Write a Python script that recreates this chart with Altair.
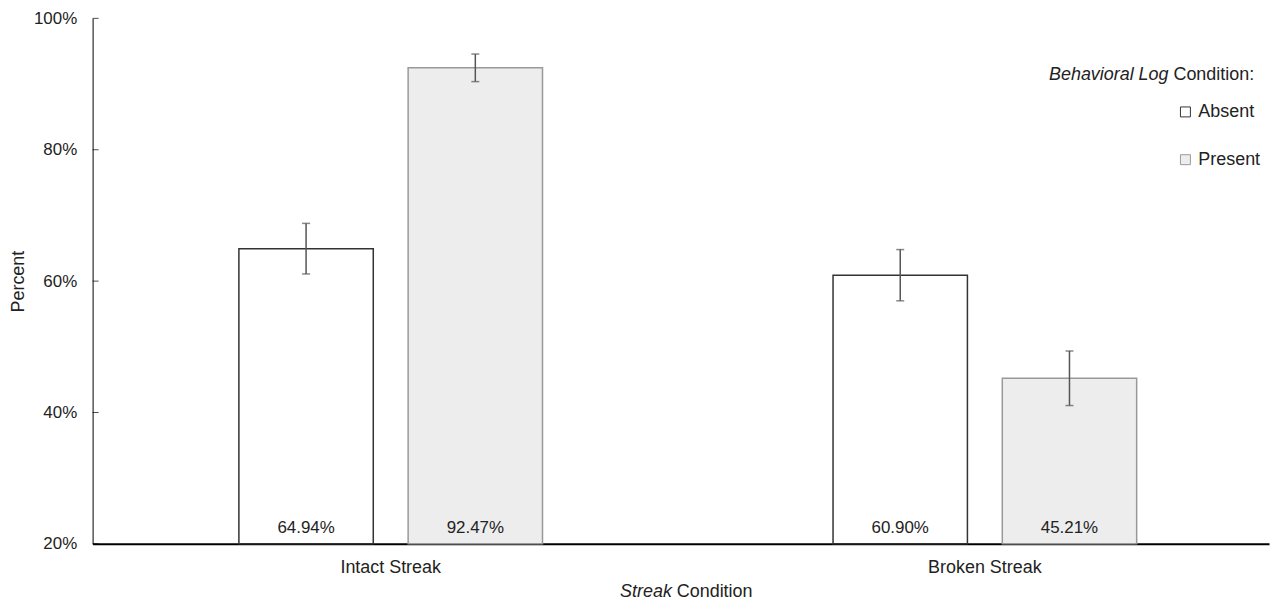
import altair as alt
import pandas as pd

streak = ["Intact Streak", "Intact Streak", "Broken Streak", "Broken Streak"]
log_cond = ["Absent", "Present", "Absent", "Present"]
pct = [64.94, 92.47, 60.90, 45.21]
err = [3.85, 2.10, 3.90, 4.15]
streak_order = ["Intact Streak", "Broken Streak"]
log_order = ["Absent", "Present"]
y_ticks = [20, 40, 60, 80, 100]

df = pd.DataFrame({"streak": streak, "log": log_cond, "pct": pct, "err": err})
df["lo"] = df["pct"] - df["err"]
df["hi"] = df["pct"] + df["err"]
df["label"] = [f"{v:.2f}%" for v in pct]
df["base"] = 20
ticks_df = pd.DataFrame({"v": y_ticks})

FONT = "Liberation Sans"
TXT = "#222222"
W, H = 1182, 528

x_enc = alt.X("streak:N", sort=streak_order,
              scale=alt.Scale(paddingInner=0.489, paddingOuter=0.2345, align=0.525),
              axis=alt.Axis(title=None, ticks=False, domainColor="#000000", domainWidth=2,
                            labelFont=FONT, labelFontSize=18, labelColor=TXT,
                            labelPadding=15, labelAngle=0))
xo_enc = alt.XOffset("log:N", sort=log_order, scale=alt.Scale(paddingInner=0.206, paddingOuter=0))
y_scale = alt.Scale(domain=[20, 100], zero=False, nice=False)

legend_cfg = dict(title=None, orient="none", legendX=1089, legendY=85,
                  symbolType="square", symbolSize=100, symbolStrokeWidth=1,
                  labelFont=FONT, labelFontSize=18, labelColor=TXT,
                  labelOffset=4, rowPadding=30)

base = alt.Chart(df)

bars = base.mark_bar(strokeWidth=1.5).encode(
    x=x_enc,
    xOffset=xo_enc,
    y=alt.Y("pct:Q", scale=y_scale,
            axis=alt.Axis(title="Percent", values=y_ticks, format=".0f", labelExpr="datum.label + '%'",
                          grid=False, ticks=False, domainColor="#000000", domainWidth=1,
                          labelFont=FONT, labelFontSize=17, labelColor=TXT, labelPadding=16,
                          titleFont=FONT, titleFontSize=18, titleColor=TXT, titleFontWeight="normal",
                          titleX=-74, titleY=264, titleAngle=270, titleAlign="center",
                          titleBaseline="middle")),
    y2=alt.Y2("base:Q"),
    fill=alt.Fill("log:N", sort=log_order,
                  scale=alt.Scale(domain=log_order, range=["#ffffff", "#ededed"]),
                  legend=alt.Legend(**legend_cfg)),
    stroke=alt.Stroke("log:N", sort=log_order,
                      scale=alt.Scale(domain=log_order, range=["#333333", "#999999"]),
                      legend=alt.Legend(**legend_cfg)),
)

yticks = alt.Chart(ticks_df).mark_tick(color="#000000", thickness=1, size=6, orient="horizontal").encode(
    x=alt.value(3), y=alt.Y("v:Q", scale=y_scale))

rules = base.mark_rule(color="#555555", strokeWidth=1.5).encode(
    x=alt.X("streak:N", sort=streak_order), xOffset=xo_enc,
    y=alt.Y("lo:Q", scale=y_scale), y2="hi:Q")

caps_lo = base.mark_tick(color="#555555", thickness=1.5, size=8, orient="horizontal").encode(
    x=alt.X("streak:N", sort=streak_order), xOffset=xo_enc, y=alt.Y("lo:Q", scale=y_scale))
caps_hi = base.mark_tick(color="#555555", thickness=1.5, size=8, orient="horizontal").encode(
    x=alt.X("streak:N", sort=streak_order), xOffset=xo_enc, y=alt.Y("hi:Q", scale=y_scale))

labels = base.mark_text(font=FONT, fontSize=17, color=TXT, baseline="middle", dy=-16).encode(
    x=alt.X("streak:N", sort=streak_order), xOffset=xo_enc,
    y=alt.Y("base:Q", scale=y_scale), text="label:N")

ann = pd.DataFrame({"t": ["x"]})
xt1 = alt.Chart(ann).mark_text(font=FONT, fontSize=18, color=TXT, fontStyle="italic",
                               align="right", baseline="middle").encode(
    x=alt.value(582), y=alt.value(H + 48.5), text=alt.value("Streak"))
xt2 = alt.Chart(ann).mark_text(font=FONT, fontSize=18, color=TXT,
                               align="left", baseline="middle").encode(
    x=alt.value(587), y=alt.value(H + 48.5), text=alt.value("Condition"))
lt1 = alt.Chart(ann).mark_text(font=FONT, fontSize=18, color=TXT, fontStyle="italic",
                               align="right", baseline="middle").encode(
    x=alt.value(1081), y=alt.value(57), text=alt.value("Behavioral Log"))
lt2 = alt.Chart(ann).mark_text(font=FONT, fontSize=18, color=TXT,
                               align="left", baseline="middle").encode(
    x=alt.value(1086), y=alt.value(57), text=alt.value("Condition:"))

chart = alt.layer(bars, yticks, rules, caps_lo, caps_hi, labels, xt1, xt2, lt1, lt2).properties(
    width=W, height=H,
    background="#ffffff",
    autosize=alt.AutoSizeParams(type="none"),
    padding={"left": 85, "top": 9, "right": 5, "bottom": 58},
).configure_view(stroke="transparent", strokeWidth=0)

chart.save("out.html", embed_options={"renderer": "svg", "actions": False})
